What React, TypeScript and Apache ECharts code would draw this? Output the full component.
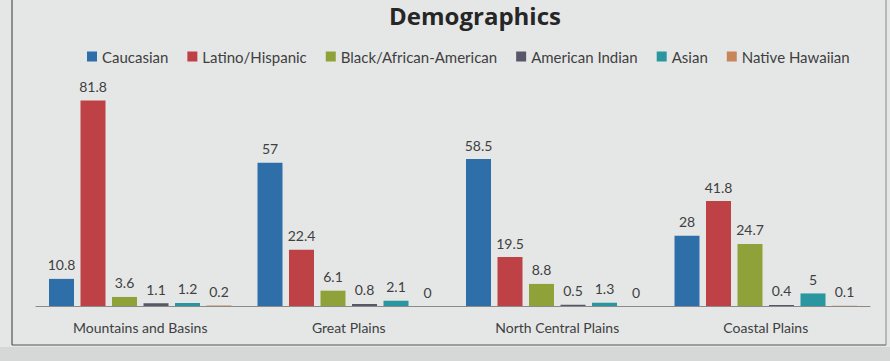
import React, { useEffect, useRef } from "react";
import * as echarts from "echarts";

const categories = ["Mountains and Basins", "Great Plains", "North Central Plains", "Coastal Plains"];
const seriesNames = ["Caucasian", "Latino/Hispanic", "Black/African-American", "American Indian", "Asian", "Native Hawaiian"];
const caucasian = [10.8, 57, 58.5, 28];
const latino = [81.8, 22.4, 19.5, 41.8];
const black = [3.6, 6.1, 8.8, 24.7];
const americanIndian = [1.1, 0.8, 0.5, 0.4];
const asian = [1.2, 2.1, 1.3, 5];
const nativeHawaiian = [0.2, 0, 0, 0.1];
const colors = ["#2e6fa9", "#be4146", "#8fa23a", "#56586a", "#2a97a0", "#c8855a"];

export default function App() {
  const ref = useRef<HTMLDivElement>(null);
  useEffect(() => {
    const chart = echarts.init(ref.current!, null, { renderer: "svg" });
    const values = [caucasian, latino, black, americanIndian, asian, nativeHawaiian];
    chart.setOption({
      animation: false,
      backgroundColor: "#e5e7e7",
      color: colors,
      textStyle: { fontFamily: "Lato" },
      title: {
        text: "Demographics",
        left: 470,
        top: -2,
        textAlign: "center",
        textStyle: { fontSize: 24, fontWeight: "bold", color: "#262626", fontFamily: "Open Sans" },
      },
      legend: {
        top: 44,
        left: 82,
        itemWidth: 10,
        itemHeight: 10,
        itemGap: 19,
        icon: "rect",
        textStyle: { fontSize: 15, color: "#404040", fontFamily: "Lato" },
        data: seriesNames,
      },
      graphic: [
        { type: "rect", shape: { x: 0, y: 347, width: 890, height: 14 }, style: { fill: "#d6d8d8" } },
        { type: "line", shape: { x1: 12, y1: 0, x2: 12, y2: 345 }, style: { stroke: "#555", lineWidth: 1.2 } },
        { type: "line", shape: { x1: 12, y1: 345, x2: 886, y2: 345 }, style: { stroke: "#555", lineWidth: 1.2 } },
        { type: "line", shape: { x1: 886, y1: 0, x2: 886, y2: 345 }, style: { stroke: "#888", lineWidth: 1 } },
      ],
      grid: { left: 36, right: 20, top: 80, bottom: 55 },
      xAxis: {
        type: "category",
        data: categories,
        axisLine: { lineStyle: { color: "#8a8a8a" } },
        axisTick: { show: false },
        axisLabel: { fontSize: 14, color: "#404040", margin: 14, fontFamily: "Lato" },
      },
      yAxis: {
        type: "value",
        min: 0,
        max: 90,
        show: false,
        splitLine: { show: false },
      },
      series: seriesNames.map((name, i) => ({
        name,
        type: "bar",
        data: values[i],
        barWidth: 25,
        barGap: "26%",
        label: {
          show: true,
          position: "top",
          distance: 7,
          fontSize: 14,
          color: "#404040",
          fontFamily: "Lato",
        },
      })),
    });
    return () => chart.dispose();
  }, []);
  return <div ref={ref} style={{ position: "absolute", left: 0, top: 0, width: 890, height: 361 }} />;
}
